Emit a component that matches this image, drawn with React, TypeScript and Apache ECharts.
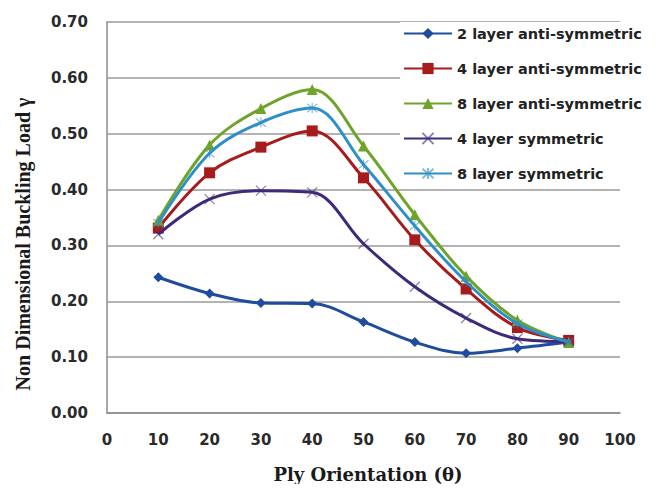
import React, { useEffect, useRef } from "react";
import * as echarts from "echarts";

const xValues = [10, 20, 30, 40, 50, 60, 70, 80, 90];
const seriesNames = [
  "2 layer anti-symmetric",
  "4 layer anti-symmetric",
  "8 layer anti-symmetric",
  "4 layer symmetric",
  "8 layer symmetric",
];
const layer2Anti = [0.243, 0.214, 0.197, 0.196, 0.163, 0.127, 0.107, 0.116, 0.127];
const layer4Anti = [0.331, 0.43, 0.476, 0.505, 0.421, 0.31, 0.222, 0.153, 0.13];
const layer8Anti = [0.345, 0.48, 0.545, 0.579, 0.478, 0.355, 0.245, 0.166, 0.126];
const layer4Sym = [0.32, 0.383, 0.398, 0.395, 0.303, 0.226, 0.17, 0.133, 0.128];
const layer8Sym = [0.34, 0.465, 0.52, 0.546, 0.445, 0.335, 0.235, 0.16, 0.127];
const colors = ["#1f4c9c", "#a81b1c", "#6fa42a", "#3f2a7a", "#2e90c6"];
const xAxisTitle = "Ply Orientation (θ)";
const yAxisTitle = "Non Dimensional Buckling Load γ";

const X_MARK = "path://M0,0L10,10M10,0L0,10";
const STAR_MARK = "path://M0,0L10,10M10,0L0,10M5,-1L5,11";

export default function App() {
  const ref = useRef<HTMLDivElement>(null);
  useEffect(() => {
    if (!ref.current) return;
    const chart = echarts.init(ref.current, undefined, { renderer: "svg" });
    const allData = [layer2Anti, layer4Anti, layer8Anti, layer4Sym, layer8Sym];
    const symbols = ["diamond", "rect", "triangle", X_MARK, STAR_MARK];
    const sizes = [10, 11, 11, 10, 10];
    const series = allData.map((vals, i) => ({
      name: seriesNames[i],
      type: "line",
      data: xValues.map((x, j) => [x, vals[j]]),
      smooth: 0.35,
      symbol: symbols[i],
      symbolSize: sizes[i],
      showSymbol: true,
      lineStyle: { color: colors[i], width: 3 },
      itemStyle:
        i >= 3
          ? { color: colors[i], borderColor: colors[i], borderWidth: 1.2, opacity: 0.6 }
          : { color: colors[i] },
      z: 2 + i,
    }));
    chart.setOption({
      animation: false,
      backgroundColor: "#ffffff",
      grid: { left: 107, right: 38, top: 22, bottom: 79, containLabel: false },
      legend: {
        orient: "vertical",
        left: 400,
        top: 22,
        itemWidth: 48,
        itemHeight: 14,
        itemGap: 20,
        padding: [4, 2, 6, 3],
        backgroundColor: "#ffffff",
        data: seriesNames,
        textStyle: {
          fontFamily: "DejaVu Sans",
          fontWeight: "bold",
          fontSize: 14.5,
          color: "#222",
        },
      },
      xAxis: {
        type: "value",
        min: 0,
        max: 100,
        interval: 10,
        axisLine: { show: true, lineStyle: { color: "#8c8c8c", width: 1.5 } },
        axisTick: { show: false },
        splitLine: { show: false },
        axisLabel: {
          margin: 19,
          fontFamily: "DejaVu Sans",
          fontWeight: "bold",
          fontSize: 15,
          color: "#2a2a2a",
        },
      },
      yAxis: {
        type: "value",
        min: 0,
        max: 0.7,
        interval: 0.1,
        axisLine: { show: true, lineStyle: { color: "#8c8c8c", width: 1.5 } },
        axisTick: { show: false },
        splitLine: { show: true, lineStyle: { color: "#9a9a9a", width: 1.5 } },
        axisLabel: {
          margin: 19,
          fontFamily: "DejaVu Sans",
          fontWeight: "bold",
          fontSize: 15,
          color: "#2a2a2a",
          formatter: (v: number) => v.toFixed(2),
        },
      },
      graphic: [
        {
          type: "text",
          x: 23,
          y: 244,
          rotation: Math.PI / 2,
          style: {
            text: yAxisTitle,
            font: "bold 20px 'Liberation Serif'",
            fill: "#1a1a1a",
            align: "center",
            verticalAlign: "middle",
          },
        },
        {
          type: "text",
          x: 368,
          y: 474,
          style: {
            text: xAxisTitle,
            font: "bold 18px 'DejaVu Serif'",
            fill: "#1a1a1a",
            align: "center",
            verticalAlign: "middle",
          },
        },
      ],
      series,
    });
    return () => chart.dispose();
  }, []);
  return <div ref={ref} style={{ width: 658, height: 492, margin: -8 }} />;
}
